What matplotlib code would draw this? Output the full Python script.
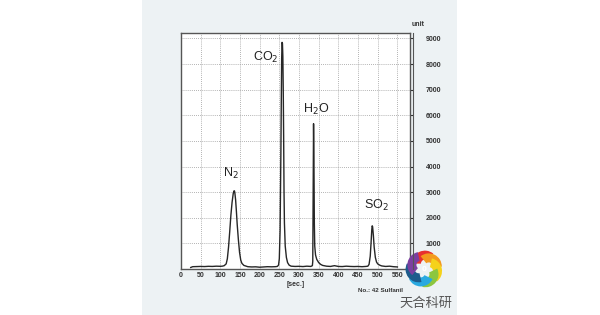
import numpy as np
import matplotlib
matplotlib.use("Agg")
import matplotlib.pyplot as plt
from matplotlib.patches import Rectangle, Wedge

# chromatogram: time [sec.] and detector signal [unit]
t = [25, 30, 40, 50, 60, 70, 80, 90, 100, 105, 110, 115, 118, 121, 124, 127,
     130, 133, 135, 136, 137, 139, 141, 143, 146, 149, 152, 155, 160, 170,
     180, 190, 200, 210, 220, 230, 240, 245, 248, 250, 252, 254, 255, 256,
     257, 258, 259, 260, 261, 262, 263, 265, 268, 271, 275, 280, 290, 300,
     310, 320, 330, 334, 335, 336, 337, 338, 339, 340, 342, 345, 350, 355,
     360, 370, 380, 390, 400, 410, 420, 430, 440, 450, 460, 470, 475, 478,
     481, 483, 485, 486, 487, 489, 491, 494, 497, 500, 505, 510, 520, 530,
     540, 550]
signal = [60, 90, 95, 100, 95, 105, 100, 110, 105, 110, 130, 200, 400, 850,
          1450, 2100, 2600, 2950, 3050, 3050, 2980, 2700, 2250, 1750, 1150,
          650, 350, 220, 140, 90, 80, 85, 70, 80, 90, 85, 90, 100, 150, 400,
          1500, 4500, 6500, 8200, 8845, 8800, 8300, 7000, 5200, 3000, 1800,
          900, 450, 250, 150, 110, 100, 105, 95, 110, 100, 130, 300, 3000,
          5670, 4200, 1800, 900, 550, 380, 250, 180, 140, 110, 100, 130, 100,
          95, 110, 100, 95, 100, 90, 100, 110, 180, 500, 1000, 1550, 1685,
          1650, 1300, 850, 450, 270, 200, 150, 120, 100, 110, 90, 80]

peak_names = ["N$_2$", "CO$_2$", "H$_2$O", "SO$_2$"]
label_t = [127, 216, 344, 497]
label_y = [3710, 8250, 6225, 2465]

x_ticks = [0, 50, 100, 150, 200, 250, 300, 350, 400, 450, 500, 550]
y_ticks = [1000, 2000, 3000, 4000, 5000, 6000, 7000, 8000, 9000]

W, H = 600, 315
fig = plt.figure(figsize=(6, 3.15), dpi=100)
fig.patch.set_facecolor("white")

# light panel behind the chart
fig.add_artist(Rectangle((142 / W, 0), (457 - 142) / W, 1, transform=fig.transFigure,
                         facecolor="#edf2f4", edgecolor="none", zorder=-10))

ax = fig.add_axes([180.5 / W, (H - 269) / H, (410 - 180.5) / W, (269 - 32.5) / H])
ax.set_facecolor("white")
ax.plot(t, signal, color="#262626", lw=1.0)

ax.set_xlim(-1, 582)
ax.set_ylim(0, 9230)
ax.set_xticks(x_ticks)
ax.set_yticks(y_ticks)
ax.grid(True, ls=(0, (1, 1.5)), color="#9a9a9a", lw=0.6)

ax.yaxis.tick_right()
ax.tick_params(axis="y", which="both", left=False, right=True, length=2.5, width=0.8,
               pad=9, labelsize=5, colors="#333333")
ax.tick_params(axis="x", length=0, pad=2.5, labelsize=5, colors="#333333")
for lab in ax.get_xticklabels() + ax.get_yticklabels():
    lab.set_fontweight("bold")
    lab.set_family("Liberation Sans")
for s in ax.spines.values():
    s.set_color("#555555")
    s.set_linewidth(1.0)

# second line of the doubled right frame
fig.add_artist(plt.Line2D([412.5 / W, 412.5 / W], [(H - 269) / H, (H - 32.5) / H],
                          color="#555555", lw=0.8))

for name, xt, yt in zip(peak_names, label_t, label_y):
    ax.text(xt, yt, name, ha="center", va="center", fontsize=9,
            family="Liberation Sans", color="#222222")

fig.text(412 / W, 1 - 24 / H, "unit", fontsize=5, fontweight="bold",
         family="Liberation Sans", color="#333333", va="center")
fig.text(296 / W, 1 - 285 / H, "[sec.]", fontsize=5, fontweight="bold",
         family="Liberation Sans", color="#333333", ha="center", va="center")
fig.text(358 / W, 1 - 291 / H, "No.: 42 Sulfanil", fontsize=4.5, fontweight="bold",
         family="Liberation Sans", color="#333333", va="center")

# pinwheel logo
lg = fig.add_axes([404 / W, (H - 288) / H, 40 / W, 38 / H])
lg.set_xlim(-1.05, 1.05)
lg.set_ylim(-1.05, 1.05)
lg.set_aspect("equal")
lg.axis("off")
colors = ["#e8312f", "#f39a1e", "#f5d21a", "#8cc63f", "#29a9e0", "#1d5c8c", "#7b3fa0"]
for i, c in enumerate(colors):
    a = 80 - i * 360 / 7
    r = np.deg2rad(a)
    lg.add_patch(Wedge((0.3 * np.cos(r), 0.3 * np.sin(r)), 0.72, a - 30, a + 100,
                       width=0.5, facecolor=c, edgecolor="none"))
lg.text(0, 0, "0", fontsize=5, fontweight="bold", color="white", ha="center", va="center")

fig.text(426 / W, 1 - 303 / H, "天合科研", fontsize=9.5, family=["Noto Sans CJK SC", "DejaVu Sans"],
         color="#555555", ha="center", va="center")

fig.savefig("out.png", dpi=100)
